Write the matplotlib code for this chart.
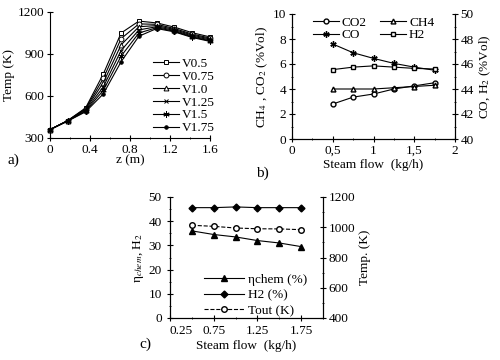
import numpy as np
import matplotlib
matplotlib.use('Agg')
import matplotlib.pyplot as plt
from matplotlib.ticker import MultipleLocator, FuncFormatter

plt.rcParams['font.family'] = ['Liberation Serif', 'DejaVu Serif']
plt.rcParams['font.size'] = 9.5
plt.rcParams['mathtext.fontset'] = 'stix'

# panel a) temperature profiles along the reactor
Z = [0, 0.178, 0.356, 0.533, 0.711, 0.889, 1.067, 1.244, 1.422, 1.6]
PROFILE_NAMES = ['V0.5', 'V0.75', 'V1.0', 'V1.25', 'V1.5', 'V1.75']
T_V05 = [360, 425, 515, 757, 1050, 1135, 1122, 1092, 1052, 1022]
T_V075 = [360, 425, 510, 725, 1010, 1115, 1112, 1082, 1042, 1014]
T_V10 = [360, 424, 505, 695, 965, 1095, 1103, 1075, 1035, 1007]
T_V125 = [360, 423, 498, 665, 925, 1072, 1095, 1068, 1028, 1000]
T_V15 = [360, 422, 492, 640, 885, 1050, 1088, 1062, 1022, 994]
T_V175 = [360, 421, 487, 615, 845, 1027, 1082, 1058, 1018, 990]

# panel b) gas composition vs steam flow
STEAM = [0.5, 0.75, 1.0, 1.25, 1.5, 1.75]
CO2 = [2.8, 3.35, 3.6, 4.0, 4.25, 4.5]
CH4 = [4.0, 4.0, 4.0, 4.1, 4.2, 4.3]
CO = [47.6, 46.9, 46.45, 46.05, 45.75, 45.5]
H2 = [45.55, 45.75, 45.85, 45.75, 45.65, 45.6]

# panel c) efficiency, H2 and outlet temperature
ETA_CHEM = [36, 34.5, 33.5, 32, 31, 29.5]
H2_C = [45.6, 45.6, 45.9, 45.6, 45.6, 45.6]
T_OUT = [1013, 1006, 995, 990, 989, 984]


def px_axes(fig, x0, y0, x1, y1):
    W, H = 500.0, 360.0
    return fig.add_axes([x0 / W, 1 - y1 / H, (x1 - x0) / W, (y1 - y0) / H])


fig = plt.figure(figsize=(5, 3.6), dpi=100)

# ---- a)
ax1 = px_axes(fig, 50, 12, 210, 138)
profiles = [T_V05, T_V075, T_V10, T_V125, T_V15, T_V175]
styles = [dict(marker='s', mfc='white', ms=3.5),
          dict(marker='o', mfc='white', ms=3.5),
          dict(marker='^', mfc='white', ms=3.5),
          dict(marker='x', ms=3.5),
          dict(marker=(6, 2, 0), ms=4.5),
          dict(marker='o', ms=2.5)]
for name, temps, st in zip(PROFILE_NAMES, profiles, styles):
    ax1.plot(Z, temps, color='black', lw=0.8, mew=0.7, mec='black', label=name,
             clip_on=False, **st)
ax1.set_xlim(0, 1.6)
ax1.set_ylim(300, 1200)
ax1.xaxis.set_major_locator(MultipleLocator(0.4))
ax1.xaxis.set_minor_locator(MultipleLocator(0.2))
ax1.yaxis.set_major_locator(MultipleLocator(300))
ax1.xaxis.set_major_formatter(FuncFormatter(lambda v, p: '0' if v == 0 else '%.1f' % v))
ax1.set_ylabel('Temp (K)', labelpad=2)
ax1.set_xlabel('z (m)', labelpad=-1)
ax1.spines['top'].set_visible(False)
ax1.spines['right'].set_visible(False)
ax1.tick_params(direction='inout', which='both', length=4, pad=2)
ax1.tick_params(which='minor', length=2)
ax1.legend(loc='upper left', bbox_to_anchor=(0.6, 0.69), frameon=False,
           handlelength=2.0, handletextpad=0.2, labelspacing=0.05, borderpad=0)
fig.text(0.016, 0.545, 'a)', fontsize=11)

# ---- b)
ax2 = px_axes(fig, 292, 14, 455, 139)
ax2r = ax2.twinx()
l_co2, = ax2.plot(STEAM, CO2, color='black', lw=0.8, marker='o', mfc='white', ms=3.5, label='CO2')
l_ch4, = ax2.plot(STEAM, CH4, color='black', lw=0.8, marker='^', mfc='white', ms=3.5, label='CH4')
l_co, = ax2r.plot(STEAM, CO, color='black', lw=0.8, marker=(6, 2, 0), ms=4.5, label='CO')
l_h2, = ax2r.plot(STEAM, H2, color='black', lw=0.8, marker='s', mfc='white', ms=3.5, label='H2')
ax2.set_xlim(0, 2)
ax2.set_ylim(0, 10)
ax2r.set_ylim(40, 50)
ax2.xaxis.set_major_locator(MultipleLocator(0.5))
ax2.xaxis.set_minor_locator(MultipleLocator(0.25))
ax2.yaxis.set_major_locator(MultipleLocator(2))
ax2.yaxis.set_minor_locator(MultipleLocator(1))
ax2r.yaxis.set_major_locator(MultipleLocator(2))
ax2r.yaxis.set_minor_locator(MultipleLocator(1))
ax2.xaxis.set_major_formatter(FuncFormatter(lambda v, p: ('%g' % v).replace('.', ',')))
for a in (ax2, ax2r):
    a.spines['top'].set_visible(False)
    a.tick_params(direction='inout', which='both', length=4, pad=2)
    a.tick_params(which='minor', length=2)
ax2.set_ylabel('CH$_4$ , CO$_2$ (%Vol)', labelpad=2)
ax2r.set_ylabel('CO, H$_2$ (%Vol)', labelpad=3, rotation=90)
ax2.set_xlabel('Steam flow  (kg/h)', labelpad=2)
ax2.legend([l_co2, l_co, l_ch4, l_h2], ['CO2', 'CO', 'CH4', 'H2'], ncol=2,
           loc='upper center', bbox_to_anchor=(0.5, 1.03), frameon=False,
           handlelength=2.0, handletextpad=0.2, labelspacing=0.0, columnspacing=1.0,
           borderpad=0)
fig.text(0.512, 0.51, 'b)', fontsize=11)

# ---- c)
ax3 = px_axes(fig, 170, 197, 323, 318)
ax3r = ax3.twinx()
l_eta, = ax3.plot(STEAM, ETA_CHEM, color='black', lw=0.8, marker='^', ms=4, label='ηchem (%)')
l_h2c, = ax3.plot(STEAM, H2_C, color='black', lw=0.8, marker='D', ms=3.5, label='H2 (%)')
l_t, = ax3r.plot(STEAM, T_OUT, color='black', lw=0.8, ls='--', marker='o', mfc='white',
                 ms=4, label='Tout (K)')
ax3.set_xlim(0.25, 2.0)
ax3.set_ylim(0, 50)
ax3r.set_ylim(400, 1200)
ax3.set_xticks([0.25, 0.75, 1.25, 1.75])
ax3.set_xticklabels(['0.25', '0.75', '1.25', '1.75'])
ax3.xaxis.set_minor_locator(MultipleLocator(0.25))
ax3.yaxis.set_major_locator(MultipleLocator(10))
ax3.yaxis.set_minor_locator(MultipleLocator(5))
ax3r.yaxis.set_major_locator(MultipleLocator(200))
ax3r.yaxis.set_minor_locator(MultipleLocator(100))
for a in (ax3, ax3r):
    a.spines['top'].set_visible(False)
    a.tick_params(direction='inout', which='both', length=4, pad=2)
    a.tick_params(which='minor', length=2)
ax3.tick_params(axis='y', pad=4)
ax3.tick_params(axis='x', pad=3)
ax3.get_xticklabels()[0].set_horizontalalignment('left')
ax3.get_xticklabels()[0].set_x(0.25)
ax3.set_ylabel('η$_{chem}$, H$_2$', labelpad=2)
ax3r.set_ylabel('Temp. (K)', labelpad=3, rotation=90)
ax3.set_xlabel('Steam flow  (kg/h)', labelpad=2)
ax3.legend([l_eta, l_h2c, l_t], ['ηchem (%)', 'H2 (%)', 'Tout (K)'],
           loc='upper left', bbox_to_anchor=(0.18, 0.42), frameon=False,
           handlelength=3.0, handletextpad=0.3, labelspacing=0.25, borderpad=0)
fig.text(0.278, 0.035, 'c)', fontsize=11)

fig.savefig('out.png', dpi=100)
